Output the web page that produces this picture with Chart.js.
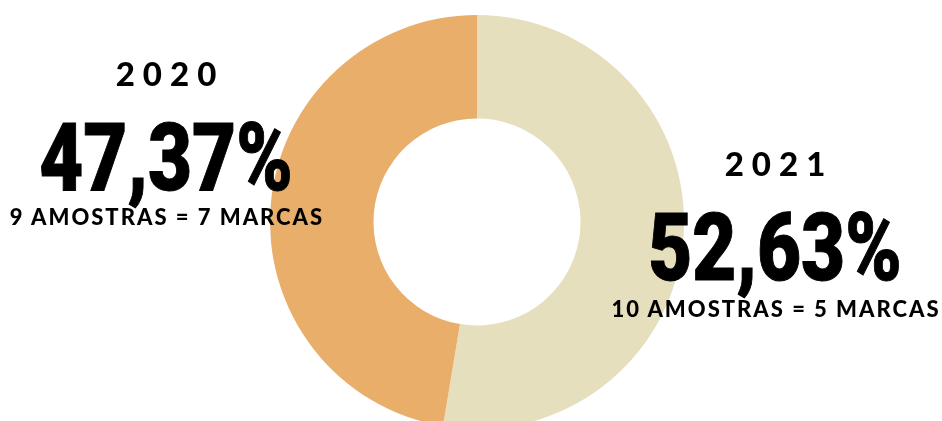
<!DOCTYPE html>
<html>
<head>
<meta charset="utf-8">
<script src="https://cdn.jsdelivr.net/npm/chart.js@4/dist/chart.umd.min.js"></script>
<style>
  html, body { margin: 0; padding: 0; background: #fff; width: 942px; height: 421px; overflow: hidden; }
  #wrap { position: relative; width: 942px; height: 421px; }
  #chart { position: absolute; left: 0; top: 0; }
  .lbl { position: absolute; white-space: nowrap; color: #000; line-height: 1; transform: translateX(-50%); }
  .ano { font-family: Lato, sans-serif; font-weight: 900; font-size: 33px; letter-spacing: 8px; padding-left: 8px; }
  .pct { font-family: Roboto, sans-serif; font-weight: 900; font-size: 94px; transform: translateX(-50%) scaleX(0.81); -webkit-text-stroke: 1px #000; }
  .sub { font-family: Lato, sans-serif; font-weight: 900; font-size: 22px; letter-spacing: 2px; padding-left: 2px; }
</style>
</head>
<body>
<div id="wrap">
  <canvas id="chart" width="942" height="429"></canvas>
</div>
<script>
// participação por ano (sentido horário a partir do topo)
const anos = ['2021', '2020'];
const percentuais = [52.63, 47.37];
const amostras = [10, 9];
const marcas = [5, 7];
const cores = ['#E6DFBE', '#EAAE6B'];

// onde cada bloco de texto fica (centro x, topo de cada linha)
const blocos = [
  { x: 775, ano: 147, pct: 201, sub: 298 },
  { x: 166, ano: 57, pct: 111, sub: 206 }
];

var ctx = document.getElementById('chart').getContext('2d');
var myChart = new Chart(ctx, {
  type: 'doughnut',
  data: {
    labels: anos,
    datasets: [{
      data: percentuais,
      backgroundColor: cores,
      borderWidth: 0,
    }]
  },
  options: {
    responsive: false,
    animation: false,
    cutout: '50%',
    layout: {
      padding: { left: 270, right: 258, top: 15, bottom: 0 }
    },
    plugins: {
      legend: { display: false },
      tooltip: { enabled: false }
    }
  }
});

function fmtPct(v) {
  return v.toFixed(2).replace('.', ',') + '%';
}

var wrap = document.getElementById('wrap');
function addLabel(cls, text, x, y) {
  var el = document.createElement('div');
  el.className = 'lbl ' + cls;
  el.textContent = text;
  el.style.left = x + 'px';
  el.style.top = y + 'px';
  wrap.appendChild(el);
}

anos.forEach((ano, i) => {
  var b = blocos[i];
  addLabel('ano', ano, b.x, b.ano);
  addLabel('pct', fmtPct(percentuais[i]), b.x, b.pct);
  addLabel('sub', amostras[i] + ' AMOSTRAS = ' + marcas[i] + ' MARCAS', b.x, b.sub);
});
</script>
</body>
</html>
